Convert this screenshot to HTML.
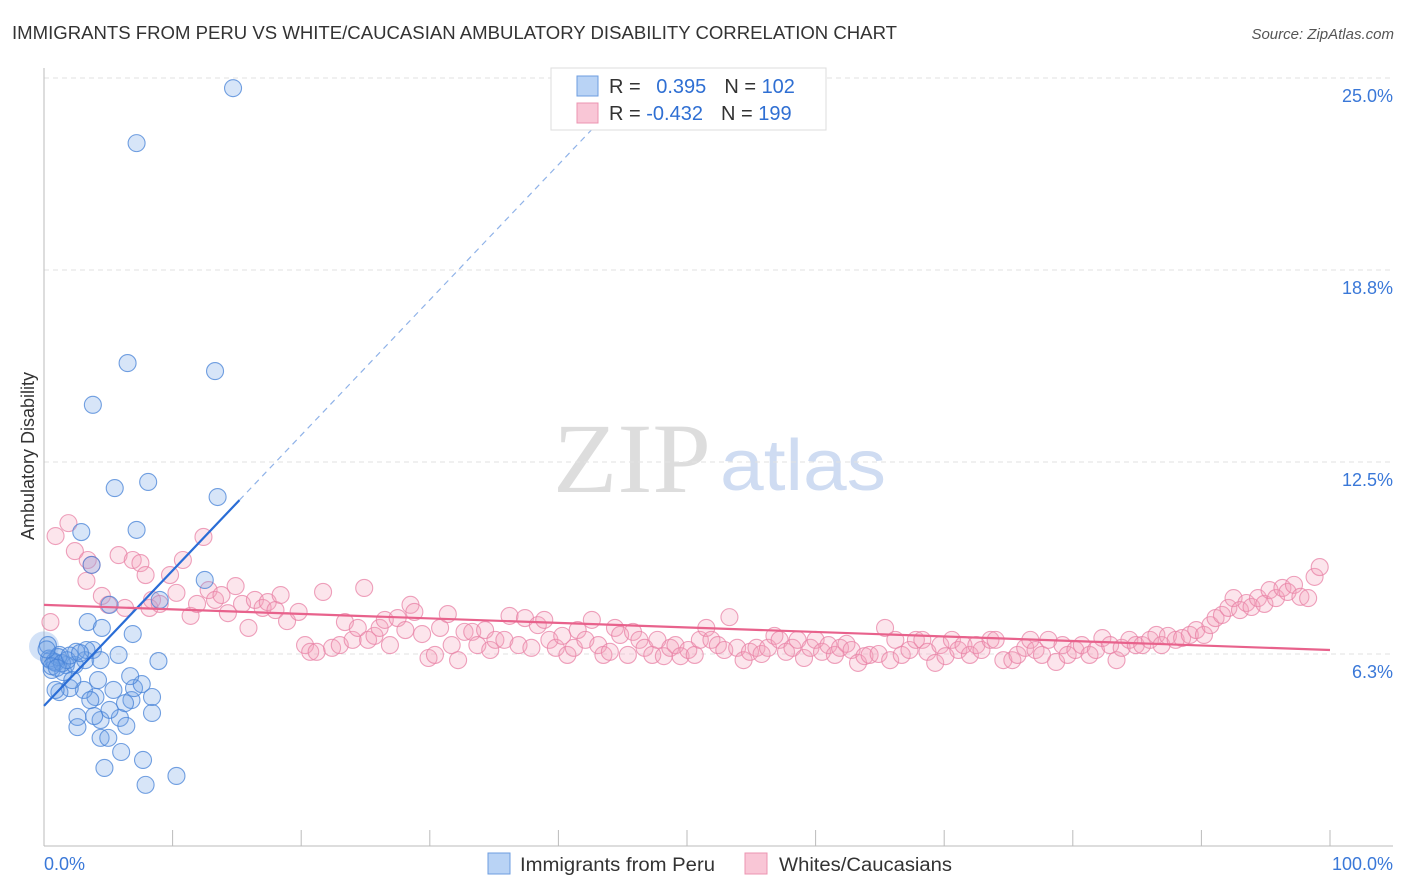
<!DOCTYPE html>
<html><head><meta charset="utf-8">
<style>
body{margin:0;background:#fff;font-family:"Liberation Sans",sans-serif;}
svg{display:block}
</style></head>
<body>
<svg id="chart" width="1406" height="892" viewBox="0 0 1406 892">
<text x="12" y="39" font-size="18" fill="#333" textLength="885" lengthAdjust="spacingAndGlyphs">IMMIGRANTS FROM PERU VS WHITE/CAUCASIAN AMBULATORY DISABILITY CORRELATION CHART</text>
<text x="1394" y="39" font-size="15" fill="#555" font-style="italic" text-anchor="end">Source: ZipAtlas.com</text>
<text x="34" y="456" font-size="18" fill="#333" text-anchor="middle" transform="rotate(-90 34 456)">Ambulatory Disability</text>
<g>
<text x="553" y="492" font-family="Liberation Serif,serif" font-size="100" fill="#ddd" textLength="158" lengthAdjust="spacingAndGlyphs">ZIP</text>
<text x="720" y="490" font-size="72" fill="#cfdcf2" textLength="166" lengthAdjust="spacingAndGlyphs">atlas</text>
</g>
<g id="grid"></g>
<g id="axes"></g>
<g id="pink"></g>
<g id="blue"></g>
<g id="lines"></g>
<g>
<rect x="551" y="68" width="275" height="62" fill="#fff" stroke="#ddd"/>
<rect x="577" y="76" width="21" height="20" fill="#b9d3f5" stroke="#6d9ee0"/>
<rect x="577" y="103" width="21" height="20" fill="#f9c6d6" stroke="#ec94b1"/>
<text x="609" y="93" font-size="20" fill="#333">R = <tspan fill="#2f6fd3" dx="10">0.395</tspan><tspan dx="18" fill="#333">N = </tspan><tspan fill="#2f6fd3">102</tspan></text>
<text x="609" y="120" font-size="20" fill="#333">R = <tspan fill="#2f6fd3">-0.432</tspan><tspan dx="18" fill="#333">N = </tspan><tspan fill="#2f6fd3">199</tspan></text>
</g>
<g>
<rect x="488" y="853" width="22" height="21" fill="#b9d3f5" stroke="#6d9ee0"/>
<text x="520" y="871" font-size="19" fill="#333" textLength="195" lengthAdjust="spacingAndGlyphs">Immigrants from Peru</text>
<rect x="745" y="853" width="22" height="21" fill="#f9c6d6" stroke="#ec94b1"/>
<text x="779" y="871" font-size="19" fill="#333" textLength="173" lengthAdjust="spacingAndGlyphs">Whites/Caucasians</text>
</g>
</svg>
<script>
const yTicks=[6.25,12.5,18.75,25];
const yTickLabels=["6.3%","12.5%","18.8%","25.0%"];
const xTicks=[0,10,20,30,40,50,60,70,80,90,100];
const blueX=[14.7,7.2,6.5,13.3,3.8,5.5,8.1,13.5,2.9,7.2,12.5,3.7,5.1,9.0,3.4,4.5,6.9,5.8,8.9,0.3,2.6,2.6,4.4,5.9,8.4,4.4,5.0,6.0,7.7,4.7,7.9,10.3,6.8,8.4,6.3,4.0,3.1,2.0,1.2,0.9,5.4,7.0,7.6,4.2,6.7,1.7,0.9,0.5,0.6,1.5,2.4,3.2,3.8,2.5,1.2,2.2,3.6,5.1,6.4,3.9,3.3,4.4,0.4,0.8,1.1,1.4,1.8,0.6,1.0,2.0,2.8,0.2];
const blueY=[24.67,22.88,15.72,15.46,14.36,11.65,11.85,11.36,10.22,10.29,8.66,9.15,7.85,8.01,7.29,7.10,6.90,6.22,6.02,6.54,4.20,3.87,4.10,4.17,4.33,3.52,3.52,3.06,2.80,2.54,1.99,2.28,4.75,4.85,4.65,4.85,5.08,5.14,5.01,5.08,5.08,5.14,5.27,5.40,5.53,5.89,5.96,6.05,5.73,5.66,5.89,6.05,6.38,6.32,6.22,5.40,4.75,4.43,3.91,4.23,6.38,6.05,6.10,6.00,6.15,5.95,6.05,5.85,5.80,6.20,6.28,6.40];
const pinkX=[0.5,0.9,1.9,2.4,3.4,3.7,3.3,4.5,5.0,5.8,6.3,6.9,7.5,7.9,8.2,8.4,9.0,9.8,10.3,10.8,11.4,11.9,12.4,12.8,13.3,13.8,14.3,14.9,15.4,15.9,16.4,17.0,17.4,18.0,18.4,18.9,19.8,20.3,20.7,21.2,21.7,22.4,23.0,23.4,24.0,24.4,24.9,25.2,25.7,26.1,26.5,26.9,27.5,28.1,28.5,28.8,29.4,29.9,30.4,30.8,31.4,31.7,32.2,32.7,33.3,33.7,34.3,34.7,35.1,35.8,36.2,36.9,37.4,37.9,38.4,38.9,39.3,39.8,40.3,40.7,41.2,41.5,42.1,42.6,43.1,43.5,44.0,44.4,44.8,45.4,45.8,46.3,46.7,47.3,47.7,48.2,48.7,49.1,49.5,50.1,50.6,51.0,51.5,51.9,52.4,52.9,53.3,53.9,54.4,54.9,55.4,55.8,56.3,56.8,57.2,57.7,58.2,58.6,59.1,59.6,60.0,60.5,61.0,61.5,61.9,62.4,62.8,63.3,63.8,64.2,64.9,65.4,65.8,66.2,66.7,67.3,67.8,68.3,68.7,69.3,69.7,70.1,70.6,71.1,71.5,72.0,72.5,72.9,73.6,74.0,74.6,75.3,75.7,76.3,76.7,77.1,77.6,78.1,78.7,79.2,79.6,80.2,80.7,81.3,81.8,82.3,82.9,83.4,83.8,84.4,84.9,85.4,86.0,86.5,86.9,87.4,88.0,88.5,89.1,89.6,90.2,90.7,91.1,91.6,92.1,92.5,93.0,93.5,93.9,94.4,94.9,95.3,95.8,96.3,96.7,97.2,97.7,98.3,98.8,99.2];
const pinkY=[7.29,10.09,10.51,9.60,9.31,9.15,8.63,8.14,7.85,9.47,7.75,9.31,9.21,8.82,7.75,8.01,7.88,8.82,8.24,9.31,7.49,7.88,10.06,8.33,8.01,8.17,7.58,8.46,7.88,7.10,8.01,7.75,7.94,7.68,8.17,7.32,7.62,6.54,6.32,6.32,8.27,6.45,6.54,7.29,6.71,7.10,8.40,6.71,6.84,7.10,7.36,6.54,7.42,7.03,7.85,7.62,6.90,6.12,6.22,7.10,7.55,6.54,6.05,6.97,6.97,6.54,7.03,6.38,6.71,6.71,7.49,6.54,7.42,6.45,7.19,7.36,6.71,6.45,6.84,6.22,6.45,7.03,6.71,7.36,6.54,6.22,6.32,7.10,6.87,6.22,6.97,6.71,6.45,6.22,6.71,6.18,6.45,6.54,6.18,6.38,6.22,6.71,7.10,6.71,6.54,6.38,7.45,6.45,6.05,6.32,6.45,6.25,6.45,6.84,6.71,6.32,6.45,6.71,6.12,6.45,6.71,6.32,6.54,6.22,6.45,6.58,6.38,5.96,6.18,6.22,6.25,7.10,6.05,6.71,6.22,6.38,6.71,6.71,6.32,5.96,6.54,6.18,6.71,6.38,6.54,6.22,6.54,6.38,6.71,6.71,6.05,6.05,6.22,6.45,6.71,6.38,6.22,6.71,5.99,6.54,6.22,6.38,6.54,6.22,6.38,6.77,6.54,6.05,6.45,6.71,6.54,6.54,6.71,6.87,6.54,6.84,6.71,6.77,6.87,7.03,6.87,7.19,7.42,7.52,7.75,8.07,7.68,7.91,7.78,8.07,7.88,8.33,8.07,8.40,8.27,8.50,8.11,8.07,8.76,9.08];
const blueTrend=[[0,4.56],[15.2,11.26]];
const blueTrendDash=[[15.2,11.26],[43,23.5]];
const pinkTrend=[[0,7.85],[100,6.38]];

const NS="http://www.w3.org/2000/svg";
const X0=44,X1=1330,Y0=846,PX=30.72;
function sx(v){return X0+(X1-X0)*v/100;}
function sy(v){return Y0-v*PX;}
function mk(tag,attrs,parent){const e=document.createElementNS(NS,tag);for(const k in attrs)e.setAttribute(k,attrs[k]);parent.appendChild(e);return e;}
const grid=document.getElementById('grid'),axes=document.getElementById('axes');
yTicks.forEach((t,i)=>{
  const l=mk('line',{x1:44,x2:1393,y1:sy(t),y2:sy(t),stroke:'#e2e2e2','stroke-dasharray':'5,4'},grid);
  
  
  const tx=mk('text',{x:1393,y:sy(t)+24,'font-size':18,fill:'#3a78d8','text-anchor':'end'},grid);
  tx.textContent=yTickLabels[i];
  
  
});
const ya=mk('line',{x1:44,x2:44,y1:68,y2:846,stroke:'#bbb'},axes);


const xa=mk('line',{x1:44,x2:1393,y1:846,y2:846,stroke:'#bbb'},axes);


xTicks.forEach(t=>{
  const l=mk('line',{x1:sx(t),x2:sx(t),y1:830,y2:846,stroke:'#bbb'},axes);
  
  
});
const xl0=mk('text',{x:44,y:870,'font-size':18,fill:'#3a78d8'},axes);xl0.textContent='0.0%';


const xl1=mk('text',{x:1393,y:870,'font-size':18,fill:'#3a78d8','text-anchor':'end'},axes);xl1.textContent='100.0%';



const pg=document.getElementById('pink');
pinkX.forEach((x,i)=>{
  const c=mk('circle',{cx:sx(x),cy:sy(pinkY[i]),r:8.5,fill:'rgba(244,160,188,0.28)',stroke:'rgba(232,130,165,0.75)','stroke-width':1.1},pg);
  
  
});
const bg=document.getElementById('blue');
const big=mk('circle',{cx:sx(0),cy:sy(6.5),r:15,fill:'rgba(110,160,230,0.3)',stroke:'none'},bg);


blueX.forEach((x,i)=>{
  const c=mk('circle',{cx:sx(x),cy:sy(blueY[i]),r:8.5,fill:'rgba(110,160,230,0.28)',stroke:'rgba(70,130,215,0.75)','stroke-width':1.1},bg);
  
  
});
const lg=document.getElementById('lines');
const bl=mk('line',{x1:sx(blueTrend[0][0]),y1:sy(blueTrend[0][1]),x2:sx(blueTrend[1][0]),y2:sy(blueTrend[1][1]),stroke:'#2a6dd6','stroke-width':2.2},lg);


const bd=mk('line',{x1:sx(blueTrendDash[0][0]),y1:sy(blueTrendDash[0][1]),x2:sx(blueTrendDash[1][0]),y2:sy(blueTrendDash[1][1]),stroke:'#8fb2e8','stroke-width':1.2,'stroke-dasharray':'6,5'},lg);


const pl=mk('line',{x1:sx(pinkTrend[0][0]),y1:sy(pinkTrend[0][1]),x2:sx(pinkTrend[1][0]),y2:sy(pinkTrend[1][1]),stroke:'#e8628c','stroke-width':2.2},lg);


</script>
</body></html>
